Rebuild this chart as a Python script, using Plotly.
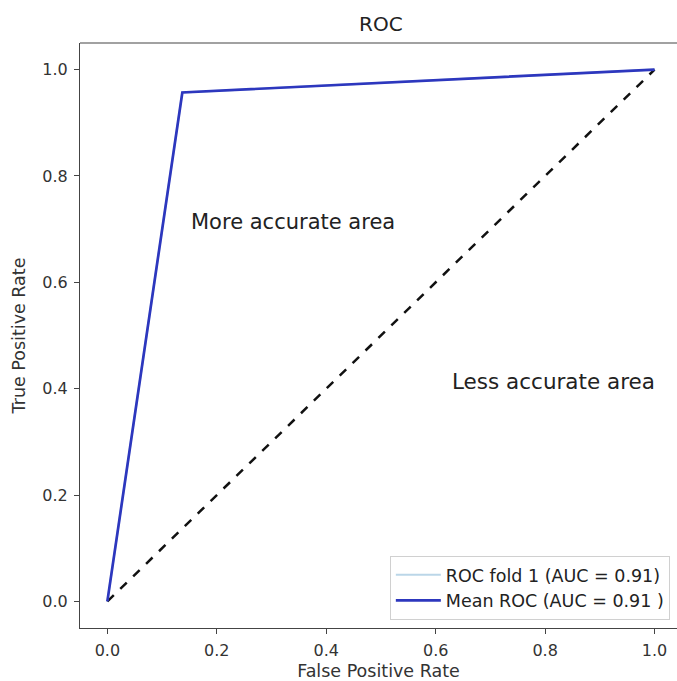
import plotly.graph_objects as go

fold_fpr = [0.0, 0.137, 1.0]
fold_tpr = [0.0, 0.957, 1.0]
mean_fpr = [0.0, 0.137, 1.0]
mean_tpr = [0.0, 0.957, 1.0]
chance = [0.0, 1.0]
fold_label = "ROC fold 1 (AUC = 0.91)"
mean_label = "Mean ROC (AUC = 0.91 )"
ticks = [0.0, 0.2, 0.4, 0.6, 0.8, 1.0]
tick_text = ["0.0", "0.2", "0.4", "0.6", "0.8", "1.0"]

FONT = "DejaVu Sans"
fig = go.Figure()
fig.add_trace(go.Scatter(x=chance, y=chance, mode="lines", showlegend=False,
                         line=dict(color="#111", width=2.5, dash="dash")))
fig.add_trace(go.Scatter(x=fold_fpr, y=fold_tpr, mode="lines", name=fold_label,
                         line=dict(color="rgba(31,119,180,0.3)", width=2)))
fig.add_trace(go.Scatter(x=mean_fpr, y=mean_tpr, mode="lines", name=mean_label,
                         line=dict(color="rgb(45,55,190)", width=2.7)))

fig.add_annotation(x=0.15, y=0.713, text="More accurate area", showarrow=False,
                   xanchor="left", yanchor="middle", font=dict(size=21, color="#222", family=FONT))
fig.add_annotation(x=0.627, y=0.413, text="Less accurate area", showarrow=False,
                   xanchor="left", yanchor="middle", font=dict(size=21.5, color="#222", family=FONT))

# top spine
fig.add_shape(type="line", xref="paper", yref="paper", x0=0, x1=1, y0=1, y1=1,
              line=dict(color="#444", width=1.2))

axis_common = dict(showgrid=False, zeroline=False, showline=True, linecolor="#444", linewidth=1.2,
                   ticks="outside", ticklen=5, tickcolor="#444", tickwidth=1,
                   tickvals=ticks, ticktext=tick_text, ticklabelstandoff=3,
                   tickfont=dict(size=16, color="#333", family=FONT))
fig.update_xaxes(range=[-0.05, 1.041], title=dict(text="False Positive Rate", standoff=6,
                 font=dict(size=17.5, color="#333", family=FONT)), **axis_common)
fig.update_yaxes(range=[-0.05, 1.05], title=dict(text="True Positive Rate", standoff=12,
                 font=dict(size=17.5, color="#333", family=FONT)), **axis_common)

fig.update_layout(
    width=677, height=681,
    margin=dict(l=80, r=0, t=43, b=53),
    plot_bgcolor="white", paper_bgcolor="white",
    title=dict(text="ROC", x=0.504, xref="paper", xanchor="center", y=1 - 24 / 681, yanchor="middle",
               font=dict(size=20, color="#222", family=FONT)),
    legend=dict(x=0.988, y=0.014, xanchor="right", yanchor="bottom",
                bgcolor="white", bordercolor="#d0d0d0", borderwidth=1, itemwidth=45,
                font=dict(size=17.5, color="#222", family=FONT), tracegroupgap=0),
    font=dict(family=FONT),
)
fig.write_html("out.html")
